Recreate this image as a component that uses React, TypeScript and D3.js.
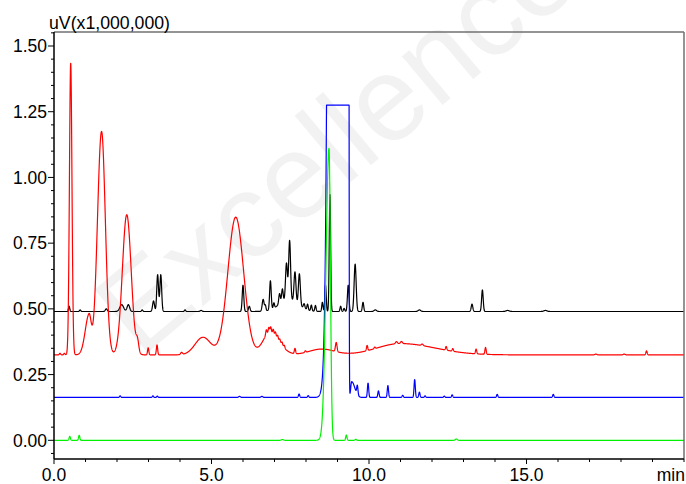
import React, { useMemo } from 'react';
import * as d3 from 'd3';

// ---- canvas & layout ----
const WIDTH = 686;
const HEIGHT = 484;
const PLOT_LEFT = 54;
const PLOT_RIGHT = 684;
const PLOT_TOP = 32;
const PLOT_BOTTOM = 459;
const Y_ZERO_PX = 440.3;
const Y_TOP_TICK_PX = 46;

// ---- axes ----
const TIME_DOMAIN: [number, number] = [0, 20];
const X_MAJOR_TICKS = [0, 5, 10, 15];
const X_TICK_LABELS = ['0.0', '5.0', '10.0', '15.0'];
const X_MINOR_STEP = 1;
const Y_MAJOR_TICKS = [0, 0.25, 0.5, 0.75, 1.0, 1.25, 1.5];
const Y_TICK_LABELS = ['0.00', '0.25', '0.50', '0.75', '1.00', '1.25', '1.50'];
const Y_MINOR_STEP = 0.05;
const Y_UNIT_LABEL = 'uV(x1,000,000)';
const X_UNIT_LABEL = 'min';
const WATERMARK = 'Excellence';

// ---- chromatogram channels ----
// Each peak: [retention time (min), height (uV x 1e6), left sigma, right sigma]
type Peak = [number, number, number, number?];

const BLACK_BASELINE = 0.49;
const BLACK_PEAKS: Peak[] = [
  [0.48, 0.02, 0.02], [0.83, 0.006, 0.02], [1.66, 0.01, 0.03],
  [2.15, 0.026, 0.06], [2.36, 0.026, 0.04], [2.8, 0.006, 0.02],
  [3.16, 0.04, 0.03], [3.29, 0.14, 0.028], [3.39, 0.14, 0.028],
  [4.16, 0.006, 0.02], [4.67, 0.004, 0.03],
  [6.0, 0.1, 0.025], [6.2, 0.02, 0.025], [6.64, 0.045, 0.03], [6.71, 0.02, 0.02],
  [6.87, 0.11, 0.025], [6.98, 0.02, 0.02],
  [7.45, 0.045, 0.3],
  [7.16, 0.04, 0.025], [7.25, 0.05, 0.025], [7.38, 0.14, 0.03], [7.48, 0.225, 0.03],
  [7.65, 0.115, 0.03], [7.79, 0.12, 0.03], [7.94, 0.018, 0.025],
  [8.05, 0.022, 0.02], [8.17, 0.022, 0.02], [8.3, 0.022, 0.02],
  [8.52, 0.035, 0.02], [8.62, 0.1, 0.022], [8.76, 0.445, 0.022],
  [9.1, 0.02, 0.02], [9.21, 0.012, 0.02], [9.34, 0.1, 0.025], [9.56, 0.18, 0.032],
  [9.81, 0.035, 0.022], [10.2, 0.006, 0.04], [11.6, 0.006, 0.04],
  [13.27, 0.028, 0.025], [13.6, 0.082, 0.025], [14.4, 0.004, 0.05], [15.6, 0.004, 0.05],
];

const RED_BASELINE = 0.325;
const RED_PEAKS: Peak[] = [
  [0.19, 0.006, 0.02], [0.33, 0.006, 0.02],
  [0.53, 1.11, 0.04],
  [1.11, 0.15, 0.12, 0.07],
  [1.51, 0.85, 0.13, 0.12],
  [2.31, 0.533, 0.14],
  [2.65, 0.04, 0.04],
  [2.99, 0.027, 0.02], [3.27, 0.038, 0.02], [4.05, 0.008, 0.03],
  [4.73, 0.067, 0.25],
  [5.77, 0.524, 0.25],
  [6.85, 0.085, 0.22, 0.3],
  [6.74, 0.02, 0.02], [6.82, 0.02, 0.02], [6.88, 0.022, 0.02], [6.96, 0.018, 0.02],
  [7.03, 0.016, 0.02], [7.1, 0.014, 0.02], [7.17, 0.012, 0.02], [7.24, 0.012, 0.02],
  [7.31, 0.01, 0.02],
  [7.65, 0.02, 0.02], [7.98, 0.006, 0.02],
  [8.5, 0.022, 0.4],
  [8.96, 0.035, 0.025],
  [9.94, 0.02, 0.02], [10.18, 0.006, 0.02],
  [11.0, 0.043, 0.75, 1.1],
  [10.87, 0.008, 0.03], [11.03, 0.008, 0.03], [11.69, 0.006, 0.03],
  [12.45, 0.014, 0.02], [12.66, 0.01, 0.02],
  [13.4, 0.018, 0.02], [13.7, 0.026, 0.02],
  [17.2, 0.003, 0.03], [18.1, 0.003, 0.03], [18.81, 0.015, 0.02],
];

const BLUE_BASELINE = 0.163;
const BLUE_SATURATION = 1.275;
const BLUE_PEAKS: Peak[] = [
  [2.1, 0.006, 0.02], [3.14, 0.006, 0.02], [3.28, 0.005, 0.02],
  [5.89, 0.004, 0.03], [6.6, 0.004, 0.03],
  [7.78, 0.013, 0.02], [8.07, 0.007, 0.02],
  [9.3, 430, 0.188, 0.02],
  [9.45, 0.06, 0.03, 0.1],
  [9.63, 0.035, 0.02], [9.97, 0.055, 0.02], [10.3, 0.025, 0.02], [10.6, 0.045, 0.02],
  [11.07, 0.008, 0.02], [11.45, 0.068, 0.02], [11.6, 0.02, 0.02], [11.78, 0.006, 0.02],
  [12.39, 0.005, 0.02], [12.64, 0.01, 0.02], [14.07, 0.012, 0.02], [15.85, 0.012, 0.02],
];

const GREEN_BASELINE = 0.0;
const GREEN_PEAKS: Peak[] = [
  [0.5, 0.015, 0.02], [0.8, 0.019, 0.02], [7.25, 0.003, 0.03],
  [8.73, 1.111, 0.095, 0.045],
  [9.28, 0.02, 0.02], [9.58, 0.004, 0.02], [12.77, 0.005, 0.03],
];

const SAMPLE_STEP = 0.004;

interface Channel {
  name: string;
  color: string;
  baseline: number;
  peaks: Peak[];
  ceiling?: number;
}

const CHANNELS: Channel[] = [
  { name: 'ch1', color: '#000000', baseline: BLACK_BASELINE, peaks: BLACK_PEAKS },
  { name: 'ch2', color: '#ff0000', baseline: RED_BASELINE, peaks: RED_PEAKS },
  { name: 'ch3', color: '#0000ff', baseline: BLUE_BASELINE, peaks: BLUE_PEAKS, ceiling: BLUE_SATURATION },
  { name: 'ch4', color: '#00f200', baseline: GREEN_BASELINE, peaks: GREEN_PEAKS },
];

function detectorSignal(t: number, ch: Channel): number {
  let v = ch.baseline;
  for (const [c, h, sl, sr] of ch.peaks) {
    const s = t < c ? sl : sr ?? sl;
    const d = (t - c) / s;
    if (Math.abs(d) < 9) v += h * Math.exp(-0.5 * d * d);
  }
  return ch.ceiling !== undefined ? Math.min(v, ch.ceiling) : v;
}

const FONT = '"Liberation Sans", Arial, Helvetica, sans-serif';
const FONT_SIZE = 17.5;

export default function App() {
  const x = useMemo(() => d3.scaleLinear().domain(TIME_DOMAIN).range([PLOT_LEFT, PLOT_RIGHT]), []);
  const y = useMemo(() => d3.scaleLinear().domain([0, 1.5]).range([Y_ZERO_PX, Y_TOP_TICK_PX]), []);

  const paths = useMemo(() => {
    const times = d3.range(TIME_DOMAIN[0], TIME_DOMAIN[1] + SAMPLE_STEP / 2, SAMPLE_STEP);
    const line = d3
      .line<[number, number]>()
      .x((d) => x(d[0]))
      .y((d) => y(d[1]));
    return CHANNELS.map((ch) => ({
      ch,
      d: line(times.map((t) => [t, detectorSignal(t, ch)] as [number, number])) || '',
    }));
  }, [x, y]);

  const yMin = y.invert(PLOT_BOTTOM);
  const yMax = y.invert(PLOT_TOP);
  const yMinor = d3
    .range(Math.ceil(yMin / Y_MINOR_STEP), Math.floor(yMax / Y_MINOR_STEP) + 1)
    .map((i) => +(i * Y_MINOR_STEP).toFixed(2))
    .filter((v) => !Y_MAJOR_TICKS.some((m) => Math.abs(m - v) < 1e-6));
  const xMinor = d3
    .range(TIME_DOMAIN[0], TIME_DOMAIN[1] + 0.001, X_MINOR_STEP)
    .filter((v) => !X_MAJOR_TICKS.includes(v));

  return (
    <svg
      width={WIDTH}
      height={HEIGHT}
      viewBox={`0 0 ${WIDTH} ${HEIGHT}`}
      style={{ position: 'absolute', left: 0, top: 0, display: 'block', background: '#fff' }}
    >
      <defs>
        <clipPath id="plot-area">
          <rect x={PLOT_LEFT} y={PLOT_TOP} width={PLOT_RIGHT - PLOT_LEFT} height={PLOT_BOTTOM - PLOT_TOP} />
        </clipPath>
        <clipPath id="page">
          <rect x={0} y={0} width={WIDTH} height={HEIGHT} />
        </clipPath>
      </defs>
      <rect x={0} y={0} width={WIDTH} height={HEIGHT} fill="#ffffff" />

      {/* faint background watermark */}
      <g clipPath="url(#page)">
        <text
          transform="translate(140,359) rotate(-40)"
          fontFamily={FONT}
          fontSize={120}
          fill="#000"
          fillOpacity={0.05}
        >
          {WATERMARK}
        </text>
      </g>

      {/* chromatogram traces */}
      <g clipPath="url(#plot-area)" fill="none" strokeWidth={1.2} strokeLinejoin="round">
        {paths.map(({ ch, d }) => (
          <path key={ch.name} d={d} stroke={ch.color} />
        ))}
      </g>

      {/* frame */}
      <line x1={PLOT_LEFT} x2={PLOT_RIGHT} y1={PLOT_TOP} y2={PLOT_TOP} stroke="#707070" strokeWidth={1.5} />
      <line x1={PLOT_RIGHT} x2={PLOT_RIGHT} y1={PLOT_TOP} y2={PLOT_BOTTOM} stroke="#707070" strokeWidth={1.5} />
      <line x1={PLOT_LEFT} x2={PLOT_LEFT} y1={PLOT_TOP} y2={PLOT_BOTTOM} stroke="#000" strokeWidth={1.5} />
      <line x1={PLOT_LEFT} x2={PLOT_RIGHT} y1={PLOT_BOTTOM} y2={PLOT_BOTTOM} stroke="#000" strokeWidth={1.5} />

      {/* axis ticks */}
      <g stroke="#000" strokeWidth={1}>
        {Y_MAJOR_TICKS.map((v) => (
          <line key={`ym${v}`} x1={PLOT_LEFT - 6} x2={PLOT_LEFT} y1={y(v)} y2={y(v)} />
        ))}
        {yMinor.map((v) => (
          <line key={`yn${v}`} x1={PLOT_LEFT - 3} x2={PLOT_LEFT} y1={y(v)} y2={y(v)} />
        ))}
        {X_MAJOR_TICKS.map((v) => (
          <line key={`xm${v}`} x1={x(v)} x2={x(v)} y1={PLOT_BOTTOM} y2={PLOT_BOTTOM + 5} />
        ))}
        {xMinor.map((v) => (
          <line key={`xn${v}`} x1={x(v)} x2={x(v)} y1={PLOT_BOTTOM} y2={PLOT_BOTTOM + 3} />
        ))}
      </g>

      {/* labels */}
      <g fontFamily={FONT} fontSize={FONT_SIZE} fill="#000">
        {Y_MAJOR_TICKS.map((v, i) => (
          <text key={`yl${v}`} x={PLOT_LEFT - 7} y={y(v) + 6.3} textAnchor="end">
            {Y_TICK_LABELS[i]}
          </text>
        ))}
        {X_MAJOR_TICKS.map((v, i) => (
          <text key={`xl${v}`} x={x(v)} y={481} textAnchor="middle">
            {X_TICK_LABELS[i]}
          </text>
        ))}
        <text x={PLOT_RIGHT + 1} y={481} textAnchor="end">
          {X_UNIT_LABEL}
        </text>
        <text x={PLOT_LEFT - 5} y={28.5} textLength={121} lengthAdjust="spacingAndGlyphs">
          {Y_UNIT_LABEL}
        </text>
      </g>
    </svg>
  );
}
